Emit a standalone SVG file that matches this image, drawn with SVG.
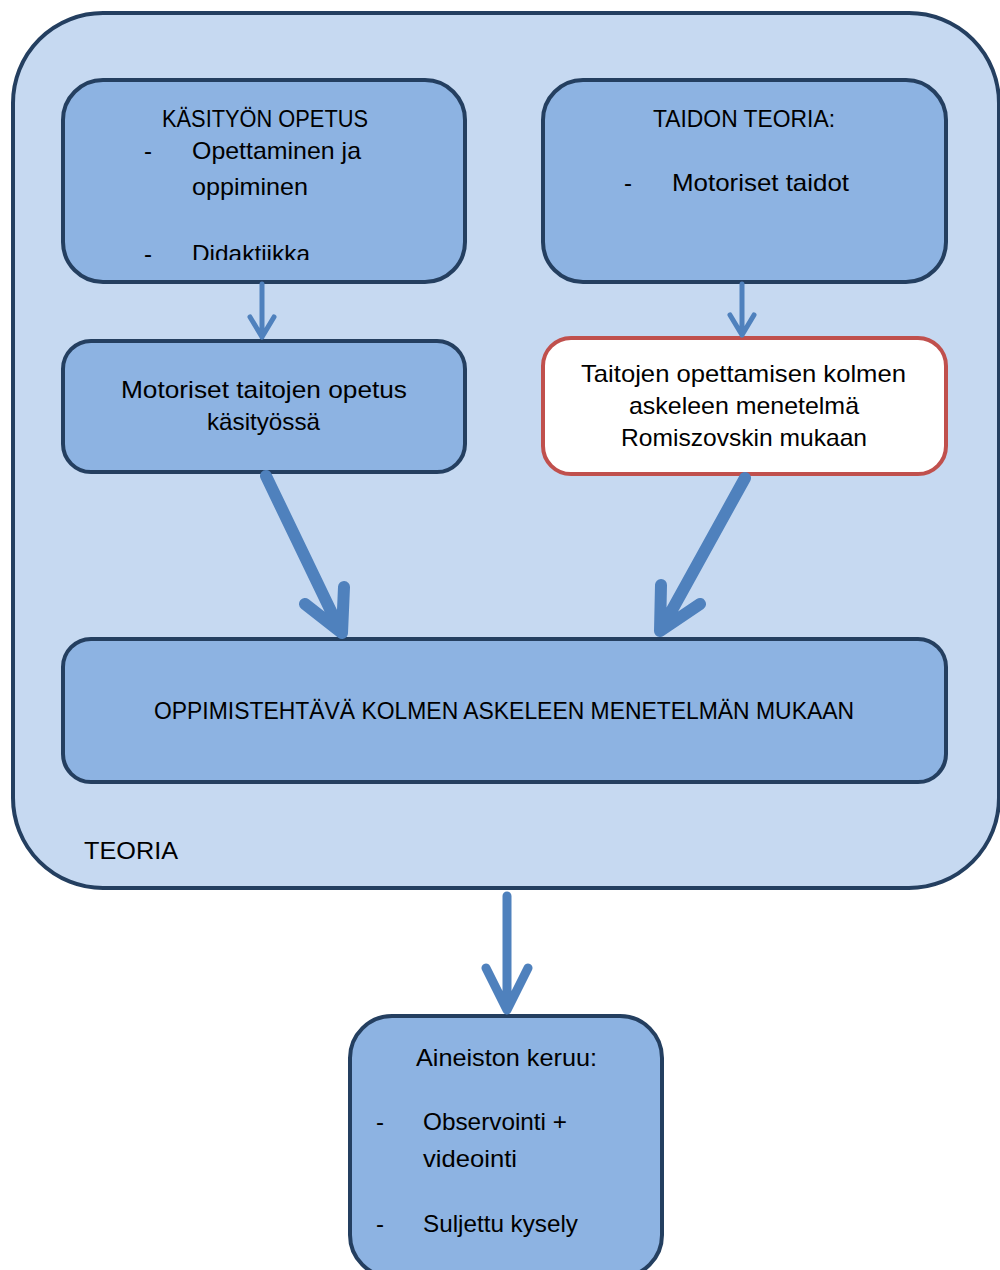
<svg xmlns="http://www.w3.org/2000/svg" width="1000" height="1270" viewBox="0 0 1000 1270">
<style>
.box{fill:#8db3e2;stroke:#243f60;stroke-width:4}
.red{fill:#ffffff;stroke:#c0504d;stroke-width:4}
.outer{fill:#c6d9f1;stroke:#243f60;stroke-width:4}
text{font-family:"Liberation Sans",Arial,sans-serif;font-size:24px;fill:#000}
.arr{fill:none;stroke:#4f81bd;stroke-linecap:round;stroke-linejoin:round}
</style>
<defs>
<clipPath id="clipDid"><rect x="60" y="200" width="420" height="60"/></clipPath>
</defs>
<rect width="1000" height="1270" fill="#ffffff"/>
<g id="teoria">
<rect class="outer" x="13" y="13" width="986" height="875" rx="90" ry="90"/>
<text x="84" y="859" font-size="29" textLength="94" lengthAdjust="spacingAndGlyphs">TEORIA</text>
</g>
<g id="kasityon-opetus">
<rect class="box" x="63" y="80" width="402" height="202" rx="40"/>
<text x="162" y="127" textLength="206" lengthAdjust="spacingAndGlyphs">KÄSITYÖN OPETUS</text>
<text x="144" y="159">-</text>
<text x="192" y="159" textLength="169" lengthAdjust="spacingAndGlyphs">Opettaminen ja</text>
<text x="192" y="195" textLength="116" lengthAdjust="spacingAndGlyphs">oppiminen</text>
<g clip-path="url(#clipDid)">
<text x="144" y="262">-</text>
<text x="192" y="262" textLength="118" lengthAdjust="spacingAndGlyphs">Didaktiikka</text>
</g>
</g>
<g id="taidon-teoria">
<rect class="box" x="543" y="80" width="403" height="202" rx="40"/>
<text x="653" y="127" textLength="182" lengthAdjust="spacingAndGlyphs">TAIDON TEORIA:</text>
<text x="624" y="191">-</text>
<text x="672" y="191" textLength="177" lengthAdjust="spacingAndGlyphs">Motoriset taidot</text>
</g>
<g id="motoriset-opetus">
<rect class="box" x="63" y="341" width="402" height="131" rx="28"/>
<text x="121" y="398" textLength="286" lengthAdjust="spacingAndGlyphs">Motoriset taitojen opetus</text>
<text x="207" y="430" textLength="113" lengthAdjust="spacingAndGlyphs">käsityössä</text>
</g>
<g id="romiszovski">
<rect class="red" x="543" y="338" width="403" height="136" rx="28"/>
<text x="581" y="382" textLength="325" lengthAdjust="spacingAndGlyphs">Taitojen opettamisen kolmen</text>
<text x="629" y="414" textLength="230" lengthAdjust="spacingAndGlyphs">askeleen menetelmä</text>
<text x="621" y="446" textLength="246" lengthAdjust="spacingAndGlyphs">Romiszovskin mukaan</text>
</g>
<g id="oppimistehtava">
<rect class="box" x="63" y="639" width="883" height="143" rx="28"/>
<text x="154" y="719" textLength="700" lengthAdjust="spacingAndGlyphs">OPPIMISTEHTÄVÄ KOLMEN ASKELEEN MENETELMÄN MUKAAN</text>
</g>
<g id="aineiston-keruu">
<rect class="box" x="350" y="1016" width="312" height="261" rx="42"/>
<text x="416" y="1066" textLength="181" lengthAdjust="spacingAndGlyphs">Aineiston keruu:</text>
<text x="376" y="1130">-</text>
<text x="423" y="1130" textLength="144" lengthAdjust="spacingAndGlyphs">Observointi +</text>
<text x="423" y="1167" textLength="94" lengthAdjust="spacingAndGlyphs">videointi</text>
<text x="376" y="1232">-</text>
<text x="423" y="1232" textLength="155" lengthAdjust="spacingAndGlyphs">Suljettu kysely</text>
</g>
<g id="connectors">
<path class="arr" stroke-width="5" d="M262 284 V337 M250 317 L262 337 L274 317"/>
<path class="arr" stroke-width="5" d="M742 284 V335 M730 315 L742 335 L754 315"/>
<path class="arr" stroke-width="12" d="M266 476 L341 632 M305 604 L342 633 L344 587"/>
<path class="arr" stroke-width="12" d="M745 478 L661 630 M661 585 L660 631 L700 604"/>
<path class="arr" stroke-width="9" d="M507 896 V1008 M486 968 L507 1010 L528 968"/>
</g>
</svg>
